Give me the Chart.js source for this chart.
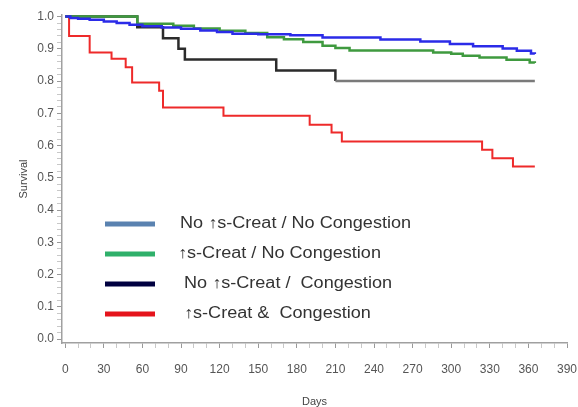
<!DOCTYPE html>
<html>
<head>
<meta charset="utf-8">
<script src="https://cdn.jsdelivr.net/npm/chart.js@4"></script>
<style>
  body { margin: 0; background: #fff; }
  #wrap { width: 578px; height: 407px; }
</style>
</head>
<body>
<div id="wrap"><canvas id="myChart" width="578" height="407"></canvas></div>
<script>
// group names as they appear in the legend
var groupNames = ['No \u2191s-Creat / No Congestion', '\u2191s-Creat / No Congestion', 'No \u2191s-Creat /  Congestion', '\u2191s-Creat &  Congestion'];

// Kaplan-Meier curves, day of each step and survival after it
var blueDays = [0, 4, 10, 19, 30, 40, 50, 60, 75, 90, 105, 118, 130, 150, 175, 200, 245, 276, 299, 317, 340, 351, 362, 365];
var blueSurv = [1.0, 0.996, 0.993, 0.99, 0.985, 0.98, 0.975, 0.97, 0.966, 0.962, 0.957, 0.952, 0.947, 0.945, 0.942, 0.935, 0.929, 0.923, 0.915, 0.908, 0.901, 0.894, 0.886, 0.884];

var greenDays = [0, 56, 84, 100, 120, 140, 157, 170, 185, 200, 210, 221, 286, 300, 309, 322, 343, 361, 365];
var greenSurv = [1.0, 0.978, 0.972, 0.963, 0.956, 0.949, 0.936, 0.93, 0.921, 0.91, 0.903, 0.895, 0.889, 0.885, 0.879, 0.873, 0.866, 0.858, 0.856];

var blackDays = [0, 56, 76, 88, 93, 164, 210, 365];
var blackSurv = [1.0, 0.967, 0.933, 0.9, 0.867, 0.833, 0.8, 0.8];

var redDays = [0, 3, 19, 36, 47, 52, 73, 76, 123, 190, 207, 215, 324, 332, 348, 365];
var redSurv = [1.0, 0.94, 0.889, 0.869, 0.843, 0.796, 0.77, 0.718, 0.693, 0.665, 0.641, 0.613, 0.587, 0.561, 0.535, 0.535];

// axis ticks
var xTicks = [0, 30, 60, 90, 120, 150, 180, 210, 240, 270, 300, 330, 360, 390];
var yTicks = [0.0, 0.1, 0.2, 0.3, 0.4, 0.5, 0.6, 0.7, 0.8, 0.9, 1.0];

var lineColors = ['#2b2be8', '#3f9a3f', '#2b2b2b', '#ee2a2a'];
var legendColors = ['#5a82b0', '#2fb06a', '#000040', '#e5141c'];

function toPoints(days, surv) {
    var pts = [];
    for (var i = 0; i < days.length; i++) {
        pts.push({ x: days[i], y: surv[i] });
    }
    return pts;
}

// legend drawn inside the plot area
var insideLegend = {
    id: 'insideLegend',
    afterDatasetsDraw: function (chart) {
        var ctx = chart.ctx;
        var area = chart.chartArea;
        var x0 = area.left + 43;
        var y0 = area.top + 209;
        var textX = [x0 + 75, x0 + 73, x0 + 79, x0 + 79];
        ctx.save();
        ctx.font = '16px "Liberation Sans", Arial, sans-serif';
        ctx.textBaseline = 'middle';
        for (var i = 0; i < groupNames.length; i++) {
            var y = y0 + i * 30;
            ctx.strokeStyle = legendColors[i];
            ctx.lineWidth = 5;
            ctx.beginPath();
            ctx.moveTo(x0, y);
            ctx.lineTo(x0 + 50, y);
            ctx.stroke();
            // the source text is drawn a little wide
            ctx.save();
            ctx.translate(textX[i], y);
            ctx.scale(1.13, 1);
            ctx.fillStyle = '#333';
            ctx.fillText(groupNames[i], 0, 0);
            ctx.restore();
        }
        ctx.restore();
    }
};

var ctx = document.getElementById('myChart').getContext('2d');
var myChart = new Chart(ctx, {
    type: 'line',
    data: {
        datasets: [{
            label: groupNames[0],
            data: toPoints(blueDays, blueSurv),
            borderColor: lineColors[0],
            borderWidth: 2.5
        }, {
            label: groupNames[1],
            data: toPoints(greenDays, greenSurv),
            borderColor: lineColors[1],
            borderWidth: 2.5
        }, {
            label: groupNames[2],
            data: toPoints(blackDays, blackSurv),
            borderColor: lineColors[2],
            borderWidth: 2.5,
            segment: {
                borderColor: function (c) { return c.p0.parsed.x >= 210 ? '#7a7a7a' : undefined; }
            }
        }, {
            label: groupNames[3],
            data: toPoints(redDays, redSurv),
            borderColor: lineColors[3],
            borderWidth: 2
        }]
    },
    options: {
        responsive: false,
        animation: false,
        events: [],
        elements: {
            point: { radius: 0 },
            line: { stepped: 'before', tension: 0 }
        },
        layout: { padding: { top: 15, right: 0, left: 13, bottom: 0 } },
        plugins: {
            legend: { display: false },
            tooltip: { enabled: false }
        },
        scales: {
            x: {
                type: 'linear',
                min: -2.5,
                max: 390,
                border: { color: '#a0a0a0', width: 1.5 },
                grid: {
                    drawOnChartArea: false,
                    tickLength: 5,
                    tickColor: function (c) { return c.tick && c.tick.value % 30 === 0 ? '#999' : '#c8c8c8'; }
                },
                afterBuildTicks: function (scale) {
                    var t = [];
                    for (var d = 0; d <= 390; d += 10) t.push({ value: d });
                    scale.ticks = t;
                },
                ticks: {
                    autoSkip: false,
                    maxRotation: 0,
                    padding: 14,
                    color: '#555',
                    font: { size: 12, family: '"Liberation Sans", Arial' },
                    callback: function (v) { return xTicks.indexOf(v) >= 0 ? String(v) : ''; }
                },
                title: {
                    display: true,
                    text: 'Days',
                    color: '#444',
                    padding: { top: 10, bottom: -2 },
                    font: { size: 11, family: '"Liberation Sans", Arial' }
                },
                afterFit: function (scale) {
                    scale.height = 64;
                    scale.paddingLeft = 0;
                    scale.paddingRight = 11;
                }
            },
            y: {
                type: 'linear',
                min: -0.012,
                max: 1.005,
                border: { color: '#a0a0a0', width: 1.5 },
                grid: {
                    drawOnChartArea: false,
                    tickLength: 5,
                    tickColor: function (c) {
                        if (!c.tick) return '#999';
                        var k = Math.round(c.tick.value * 100);
                        return k % 10 === 0 ? '#999' : '#c8c8c8';
                    }
                },
                afterBuildTicks: function (scale) {
                    var t = [];
                    for (var k = 0; k <= 50; k++) t.push({ value: k / 50 });
                    scale.ticks = t;
                },
                ticks: {
                    autoSkip: false,
                    padding: 3,
                    color: '#555',
                    font: { size: 12, family: '"Liberation Sans", Arial' },
                    callback: function (v) {
                        var k = Math.round(v * 100);
                        return k % 10 === 0 && yTicks.indexOf(k / 100) >= 0 ? (k / 100).toFixed(1) : '';
                    }
                },
                title: {
                    display: true,
                    text: 'Survival',
                    color: '#444',
                    padding: { bottom: 4 },
                    font: { size: 11, family: '"Liberation Sans", Arial' }
                },
                afterFit: function (scale) { scale.width = 49; }
            }
        }
    },
    plugins: [insideLegend]
});
</script>
</body>
</html>
